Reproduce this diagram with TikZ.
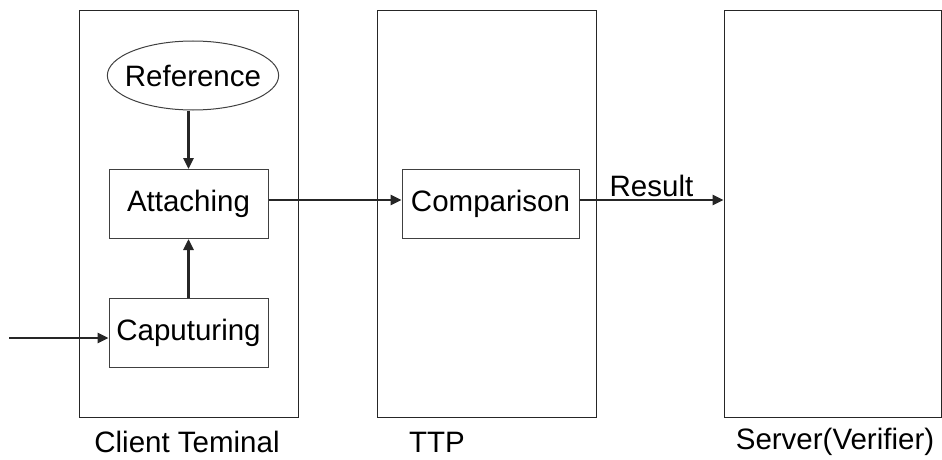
\documentclass[tikz,border=0pt]{standalone}
\usepackage{fontspec}
\setmainfont{Liberation Sans}
\usetikzlibrary{arrows.meta,shapes.geometric}
\begin{document}
\begin{tikzpicture}[x=1pt,y=-1pt,
  font=\fontsize{29.5}{33}\selectfont,
  panel/.style={draw=black!85,line width=1pt,minimum width=219pt,minimum height=406pt,inner sep=0pt},
  blockbox/.style={draw=black!75,line width=1pt,minimum height=69pt,inner sep=0pt},
  oval/.style={draw=black!75,line width=1pt,ellipse,minimum height=69pt,inner xsep=-7.5pt,inner ysep=11pt},
  flow/.style={line width=2.6pt,draw=black!85,-{Triangle[length=11pt,width=10pt]}},
  caption/.style={inner sep=0pt}]
\useasboundingbox (0,0) rectangle (942,460);
\node[panel] (client) at (188.5,214) {};
\node[panel] (ttp) at (486.5,214) {};
\node[panel,minimum width=217pt] (server) at (832.5,214) {};
\node[oval] (ref) at (193,75.5) {Reference};
\node[blockbox,minimum width=159pt] (att) at (188.5,204) {Attaching};
\node[blockbox,minimum width=159pt] (cap) at (188.5,333) {Caputuring};
\node[blockbox,minimum width=177pt] (cmp) at (490.5,204) {Comparison};
\node[caption] (lc) at (187,442) {Client Teminal};
\node[caption] (lt) at (437,442) {TTP};
\node[caption] (ls) at (835,442) {Server(Verifier)};
\coordinate (in) at (9,338);
\draw[flow] (ref.south -| att.north) -- (att.north);
\draw[flow] (cap.north) -- (att.south);
\draw[flow] (in) -- (in -| cap.west);
\draw[flow] ([yshift=4pt]att.east) -- ([yshift=4pt]cmp.west);
\draw[flow] ([yshift=4pt]cmp.east) -- ([yshift=4pt]cmp.east -| server.west) node[pos=0.5,above=2pt,caption] (res) {Result};
\end{tikzpicture}
\end{document}
